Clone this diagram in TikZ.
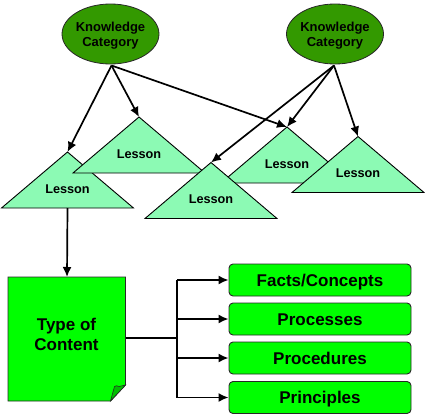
\documentclass[tikz,border=0pt]{standalone}
\usepackage{fontspec}
\setmainfont{Liberation Sans}
\usetikzlibrary{shapes.geometric,arrows.meta}
\definecolor{catgreen}{RGB}{51,153,0}
\definecolor{lessongreen}{RGB}{140,250,180}
\definecolor{boxgreen}{RGB}{0,255,0}
\definecolor{foldgreen}{RGB}{0,190,0}
\definecolor{edge}{RGB}{40,40,40}
\tikzset{
  category/.style={ellipse, draw=edge, line width=0.8pt, fill=catgreen,
    minimum width=97pt, minimum height=60pt, inner sep=0pt, align=center,
    font=\fontsize{13}{15}\selectfont\bfseries},
  lessontri/.style={draw=black, line width=0.9pt, fill=lessongreen},
  lessonlabel/.style={inner sep=0pt, font=\fontsize{12.7}{15}\selectfont\bfseries},
  kind/.style={rectangle, rounded corners=4pt, draw=edge, line width=0.9pt,
    fill=boxgreen, minimum width=182pt, minimum height=32pt, inner sep=0pt,
    text height=12.2pt, text depth=0pt,
    font=\fontsize{17}{20}\selectfont\bfseries},
  link/.style={line width=1.7pt, -{Latex[length=10pt,width=9pt]}},
  bus/.style={line width=1.7pt},
}
\begin{document}
\begin{tikzpicture}[x=1pt,y=-1pt]
\useasboundingbox (0,0) rectangle (425,415);

% knowledge categories
\node[category] (kc1) at (110.5,34) {};
\node[category] (kc2) at (335,34) {};
\node[category, draw=none, fill=none, shape=rectangle, minimum width=0pt, minimum height=0pt]
  (kc1t) at (110.5,36) {Knowledge\\Category};
\node[category, draw=none, fill=none, shape=rectangle, minimum width=0pt, minimum height=0pt]
  (kc2t) at (335,36) {Knowledge\\Category};
\coordinate (kc1b) at (111.5,65.5);
\coordinate (kc2b) at (334,65.5);

% lesson triangles (apex, base y, half width), back to front
\newcommand{\lessontriangle}[4]{%
  \coordinate (#1) at (#2,#3);
  \draw[lessontri] (#2,#3) -- (#2+66,#3+56) -- (#2-66,#3+56) -- cycle;
  \node[lessonlabel] (#1l) at (#2,#3+37) {#4};
}
\lessontriangle{la}{67.5}{152}{Lesson}
\lessontriangle{lb}{139}{117}{Lesson}
\lessontriangle{ld}{287}{127}{Lesson}
\lessontriangle{lc}{211}{162.5}{Lesson}
\lessontriangle{le}{358}{136.5}{Lesson}

% category -> lesson links
\draw[link] (kc1b) -- (la);
\draw[link] (kc1b) -- (lb);
\draw[link] (kc1b) -- (ld);
\draw[link] (kc2b) -- (lc);
\draw[link] (kc2b) -- (ld);
\draw[link] (kc2b) -- (le);

% type of content note with folded corner
\filldraw[fill=boxgreen, draw=edge, line width=0.9pt]
  (8,277) -- (125.5,277) -- (125.5,385) -- (110.5,401) -- (8,401) -- cycle;
\filldraw[fill=foldgreen, draw=edge, line width=0.6pt]
  (125.5,385) -- (119,386.5) .. controls (116.5,385.5) .. (114.5,386.5) -- (110.5,401) -- cycle;
\node[font=\fontsize{17}{20.5}\selectfont\bfseries, align=center, inner sep=0pt]
  (tct) at (66.5,334.5) {Type of\\Content};
\coordinate (tctop) at (67,277);
\draw[link] (la |- 0,208) -- (tctop);

% content kinds
\node[kind] (k1) at (320,280) {Facts/Concepts};
\node[kind] (k2) at (320,319) {Processes};
\node[kind] (k3) at (320,358) {Procedures};
\node[kind] (k4) at (320,397.5) {Principles};

% bus from the note to the kinds
\coordinate (tcr) at (125.5,338);
\coordinate (busm) at (177,338);
\draw[bus] (tcr) -- (busm);
\draw[bus] (177,280) -- (177,397.5);
\foreach \k in {k1,k2,k3,k4}
  \draw[link] (\k.west -| busm) -- (\k.west);
\end{tikzpicture}
\end{document}
